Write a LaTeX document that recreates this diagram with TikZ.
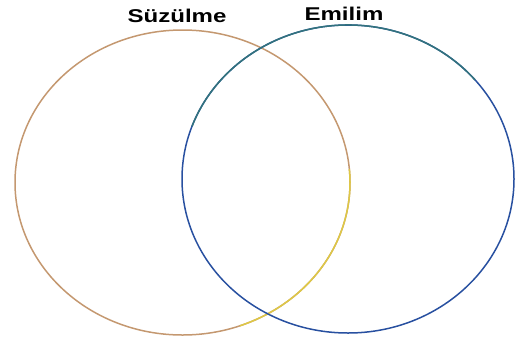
\documentclass[tikz,border=0pt]{standalone}
\usepackage{fontspec}
\setmainfont{Liberation Sans}
\definecolor{suezrand}{RGB}{196,152,112}
\definecolor{suezgelb}{RGB}{222,200,70}
\definecolor{emilrand}{RGB}{40,80,160}
\definecolor{emiltuerkis}{RGB}{50,115,125}

\begin{document}
\begin{tikzpicture}[
      x=1pt, y=-1pt,
      menge/.style={line width=1.5pt},
      titel/.style={font=\bfseries\fontsize{18.5}{20}\selectfont, xscale=1.3, anchor=base}
    ]
    \useasboundingbox (0,0) rectangle (516,338);

    % ---------- linke Menge ----------
    \coordinate (links) at (182.5,182.5);
    \draw[menge, suezrand] (links) ellipse [x radius=167.5, y radius=152.5];
    \draw[menge, suezgelb] (links) ++(-5:167.5 and 152.5)
      arc[start angle=-5, end angle=70, x radius=167.5, y radius=152.5];
    \node[titel] (suez) at (177,22.5) {Süzülme};

    % ---------- rechte Menge ----------
    \coordinate (rechts) at (348,179);
    \draw[menge, emilrand] (rechts) ellipse [x radius=166, y radius=154];
    \draw[menge, emiltuerkis] (rechts) ++(-160:166 and 154)
      arc[start angle=-160, end angle=-40, x radius=166, y radius=154];
    \node[titel] (emil) at (344,20) {Emilim};
  \end{tikzpicture}
\end{document}
